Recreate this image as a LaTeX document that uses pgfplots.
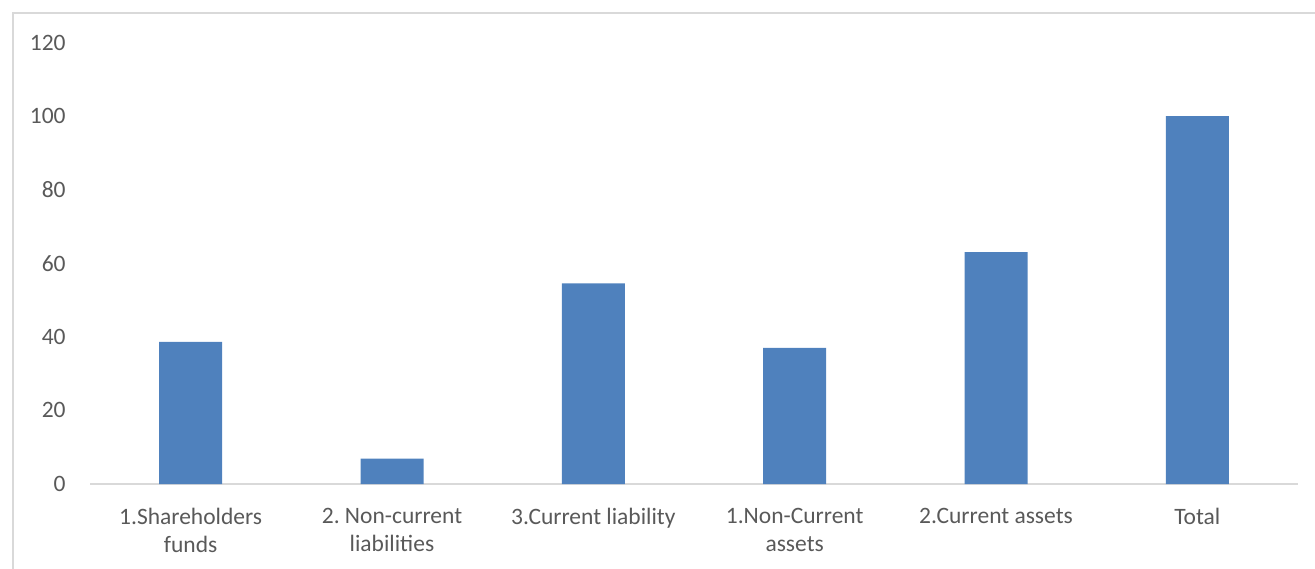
\documentclass[border=0pt]{standalone}
\usepackage{fontspec}
\setmainfont{Carlito}
\usepackage{pgfplots}
\pgfplotsset{compat=1.18}
\definecolor{barblue}{HTML}{4F81BD}
\definecolor{axgray}{HTML}{D9D9D9}
\definecolor{txtgray}{HTML}{595959}
\frenchspacing
\begin{document}
\begin{tikzpicture}
\useasboundingbox (0,0) rectangle (657.5bp,284.5bp);
\draw[axgray, line width=1bp] (6.35bp,-5bp) -- (6.35bp,278.15bp) -- (665bp,278.15bp);
\begin{axis}[
  at={(45bp,42.5bp)}, anchor=south west,
  scale only axis, width=604bp, height=220.75bp,
  xmin=-0.5, xmax=5.5, ymin=0, ymax=120,
  ytick={0,20,...,120},
  xtick={0,...,5},
  xticklabels={{1.Shareholders\\funds},{2. Non-current\\liabilities},{3.Current liability},{1.Non-Current\\assets},{2.Current assets},{Total}},
  axis x line=bottom, axis y line=left,
  axis line style={-},
  x axis line style={draw=axgray, line width=1bp},
  y axis line style={draw=none},
  tick style={draw=none},
  major tick length=0pt,
  /pgf/number format/assume math mode=true,
  tick label style={font=\fontsize{11.75bp}{14bp}\selectfont, text=txtgray, inner sep=0pt},
  yticklabel style={anchor=east, xshift=-12bp},
  xticklabel style={anchor=north, align=center, yshift=-12bp},
  clip=false,
]
\addplot[ybar, fill=barblue, draw=none, bar width=31.5bp] coordinates {(0,38.6) (1,6.9) (2,54.5) (3,37.0) (4,63.0) (5,100)};
\end{axis}
\end{tikzpicture}
\end{document}
